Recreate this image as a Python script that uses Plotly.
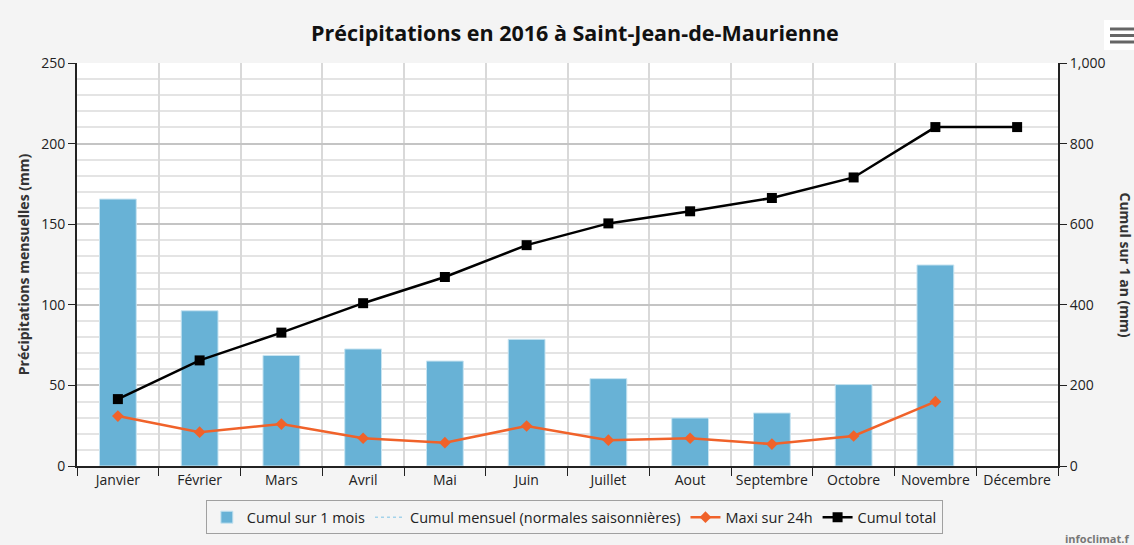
import plotly.graph_objects as go

months = ["Janvier", "Février", "Mars", "Avril", "Mai", "Juin", "Juillet",
          "Aout", "Septembre", "Octobre", "Novembre", "Décembre"]
cumul_mois = [165.6, 96.3, 68.6, 72.6, 65.1, 78.6, 54.2, 29.8, 32.9, 50.5, 124.7, None]
normales = [None] * 12
maxi_24h = [31, 21, 26, 17.2, 14.5, 24.8, 16, 17.2, 13.6, 18.6, 39.9, None]
cumul_total = [166, 262, 331, 404, 469, 548, 602, 632, 665, 716, 841, 841]

FONT = "Open Sans"

fig = go.Figure()
fig.add_trace(go.Bar(
    x=months, y=cumul_mois, name="Cumul sur 1 mois",
    marker=dict(color="#68b2d6", line=dict(color="#c8e4f1", width=1)),
    width=0.45, yaxis="y"))
fig.add_trace(go.Scatter(
    x=months, y=normales, name="Cumul mensuel (normales saisonnières)",
    mode="lines", line=dict(color="#7cc3e6", width=1, dash="dot"), yaxis="y"))
fig.add_trace(go.Scatter(
    x=months, y=maxi_24h, name="Maxi sur 24h", mode="lines+markers",
    line=dict(color="#f0622a", width=2.5),
    marker=dict(symbol="diamond", size=9, color="#f0622a"), yaxis="y"))
fig.add_trace(go.Scatter(
    x=months, y=cumul_total, name="Cumul total", mode="lines+markers",
    line=dict(color="#000000", width=2.5),
    marker=dict(symbol="square", size=10, color="#000000"), yaxis="y2"))

fig.update_layout(
    width=1134, height=545,
    margin=dict(l=77, r=76, t=63, b=79, autoexpand=False),
    paper_bgcolor="#f4f4f4", plot_bgcolor="#ffffff",
    font=dict(family=FONT, size=14, color="#222222"),
    title=dict(text="<b>Précipitations en 2016 à Saint-Jean-de-Maurienne</b>",
               x=0.507, xanchor="center", y=0.938, yanchor="middle",
               font=dict(family=FONT, size=21.5, color="#111111")),
    showlegend=True,
    legend=dict(orientation="h", x=0.507, xanchor="center", y=-0.085, yanchor="top",
                bgcolor="rgba(255,255,255,0)", bordercolor="#a0a0a0", borderwidth=1,
                font=dict(family=FONT, size=14.5, color="#222222"),
                itemwidth=30),
    xaxis=dict(
        type="category", tickson="boundaries", ticks="outside", ticklen=8,
        tickcolor="#222222", showline=True, linecolor="#222222", linewidth=2,
        showgrid=True, gridcolor="#d9d9d9", gridwidth=2,
        tickfont=dict(size=14, color="#222222"), range=[-0.5, 11.5]),
    yaxis=dict(
        range=[0, 250], dtick=50, ticks="outside", ticklen=7, tickcolor="#222222",
        showline=True, linecolor="#222222", linewidth=2,
        showgrid=True, gridcolor="#c4c4c4", gridwidth=1.5,
        minor=dict(dtick=10, showgrid=True, gridcolor="#e4e4e4", gridwidth=2),
        zeroline=False, tickfont=dict(size=14, color="#222222"),
        title=dict(text="<b>Précipitations mensuelles (mm)</b>", standoff=8,
                   font=dict(size=14, color="#333333"))),
    yaxis2=dict(
        range=[0, 1000], dtick=200, overlaying="y", side="right",
        ticks="outside", ticklen=7, tickcolor="#222222",
        showline=True, linecolor="#222222", linewidth=2,
        showgrid=False, zeroline=False, tickformat=",d",
        tickfont=dict(size=14, color="#222222")),
    bargap=0.55,
)

fig.add_annotation(text="<b>Cumul sur 1 an (mm)</b>", xref="paper", yref="paper",
                   x=1.0 + 67 / 981, xanchor="center", y=0.5, yanchor="middle",
                   textangle=90, showarrow=False,
                   font=dict(family=FONT, size=14, color="#333333"))
fig.add_annotation(text="<b>infoclimat.f</b>", xref="paper", yref="paper",
                   x=(1131 - 77) / 981, xanchor="right", y=-(538 - 466) / 403, yanchor="middle",
                   showarrow=False, font=dict(family=FONT, size=11, color="#777777"))

# hamburger menu icon
fig.add_shape(type="rect", xref="paper", yref="paper",
              x0=(1104 - 77) / 981, x1=(1138 - 77) / 981,
              y0=(466 - 50) / 403, y1=(466 - 20) / 403,
              fillcolor="#ffffff", line=dict(width=0))
for yy in [29, 35.5, 42]:
    fig.add_shape(type="rect", xref="paper", yref="paper",
                  x0=(1110 - 77) / 981, x1=(1134 - 77) / 981,
                  y0=(466 - yy - 1.5) / 403, y1=(466 - yy + 1.5) / 403,
                  fillcolor="#666666", line=dict(width=0))

fig.write_html("out.html", config={"displayModeBar": False},
               post_script="document.body.style.margin='0';document.body.style.padding='0';")
